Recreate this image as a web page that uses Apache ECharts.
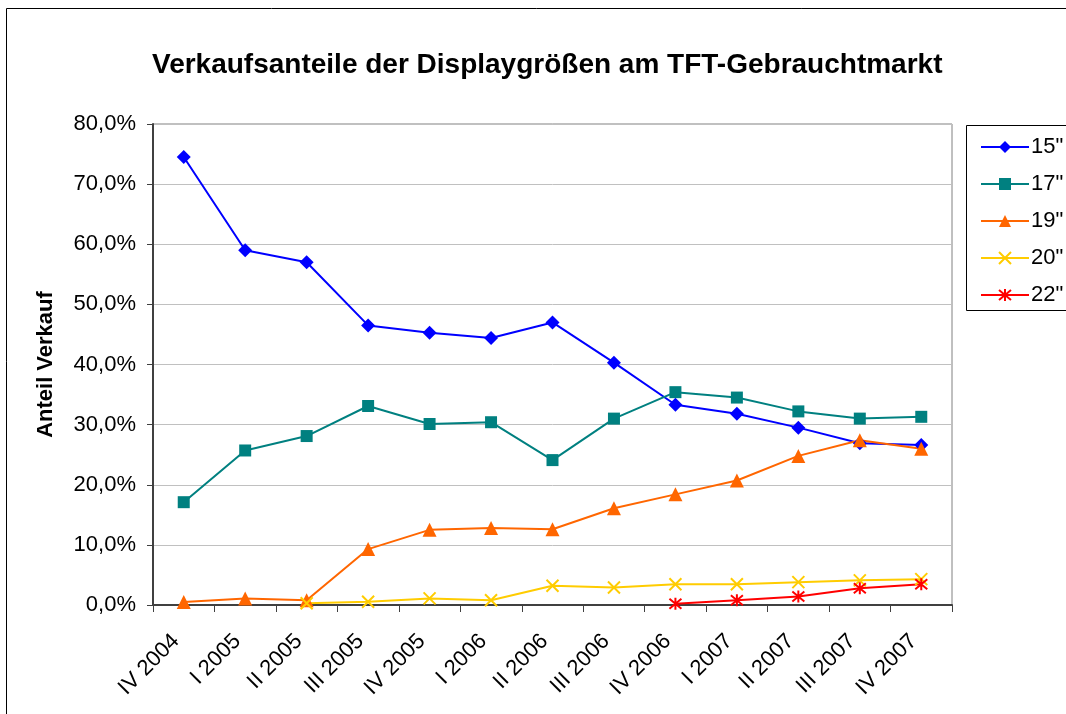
<!DOCTYPE html>
<html>
<head>
<meta charset="utf-8">
<script src="https://cdn.jsdelivr.net/npm/echarts@6/dist/echarts.min.js"></script>
<style>
html,body{margin:0;padding:0;background:#fff;}
#c{width:1066px;height:714px;}
</style>
</head>
<body>
<div id="c"></div>
<script>
const categories = ['IV 2004','I 2005','II 2005','III 2005','IV 2005','I 2006','II 2006','III 2006','IV 2006','I 2007','II 2007','III 2007','IV 2007'];
const s15 = [74.5, 59.0, 57.0, 46.5, 45.3, 44.4, 47.0, 40.3, 33.3, 31.8, 29.5, 26.9, 26.6];
const s17 = [17.1, 25.7, 28.1, 33.1, 30.1, 30.4, 24.1, 31.0, 35.4, 34.5, 32.2, 31.0, 31.3];
const s19 = [0.5, 1.1, 0.8, 9.3, 12.5, 12.8, 12.6, 16.1, 18.4, 20.7, 24.8, 27.4, 26.0];
const s20 = [null, null, 0.3, 0.55, 1.1, 0.8, 3.2, 2.9, 3.45, 3.45, 3.8, 4.1, 4.3];
const s22 = [null, null, null, null, null, null, null, null, 0.2, 0.8, 1.4, 2.8, 3.45];
const seriesNames = ['15"', '17"', '19"', '20"', '22"'];
const yTicks = {min: 0, max: 80, interval: 10};

const FONT = '"Liberation Sans", Arial, sans-serif';
const xPath = 'path://M0,0L10,10M10,0L0,10';
const starPath = 'path://M0,0L10,10M10,0L0,10M5,-1L5,11';

function mk(name, data, color, symbol, size, stroke) {
  return {
    name: name, type: 'line', data: data, symbol: symbol, symbolSize: size,
    connectNulls: false,
    lineStyle: {color: color, width: 2},
    itemStyle: stroke ? {color: 'rgba(0,0,0,0)', borderColor: color, borderWidth: 2} : {color: color, borderColor: color, borderWidth: 0},
    emphasis: {disabled: true},
    z: 3
  };
}

const chart = echarts.init(document.getElementById('c'), null, {renderer: 'canvas'});
chart.setOption({
  animation: false,
  backgroundColor: '#fff',
  title: {
    text: 'Verkaufsanteile der Displaygrößen am TFT-Gebrauchtmarkt',
    left: 147, top: 46,
    textStyle: {fontFamily: FONT, fontWeight: 'bold', fontSize: 28, color: '#000'}
  },
  graphic: [
    {type: 'rect', shape: {x: 6.5, y: 8.5, width: 1200, height: 900}, style: {fill: 'none', stroke: '#000', lineWidth: 1}, z: 0, silent: true},
    {type: 'rect', shape: {x: 966.5, y: 125.5, width: 200, height: 185}, style: {fill: 'none', stroke: '#000', lineWidth: 1}, z: 0, silent: true}
  ],
  legend: {
    orient: 'vertical', left: 975, top: 131,
    itemWidth: 48, itemHeight: 15, itemGap: 15,
    textStyle: {fontFamily: FONT, fontSize: 22, color: '#000', lineHeight: 21, padding: [0, 0, 0, -3]},
    data: seriesNames
  },
  grid: {left: 153, top: 124, right: 114, bottom: 109, show: true, borderColor: '#808080', borderWidth: 1, backgroundColor: '#fff'},
  xAxis: {
    type: 'category', data: categories, boundaryGap: true,
    axisLine: {lineStyle: {color: '#404040', width: 2}},
    axisTick: {show: true, length: 7, lineStyle: {color: '#404040', width: 1}, alignWithLabel: false},
    axisLabel: {rotate: 45, interval: 0, margin: 25, padding: [0, 11, 0, 0], fontFamily: FONT, fontSize: 22, color: '#000'},
    splitLine: {show: false}
  },
  yAxis: {
    type: 'value', min: yTicks.min, max: yTicks.max, interval: yTicks.interval,
    name: 'Anteil Verkauf', nameLocation: 'middle', nameGap: 96, nameRotate: 90,
    nameTextStyle: {fontFamily: FONT, fontWeight: 'bold', fontSize: 22, color: '#000'},
    axisLine: {show: true, lineStyle: {color: '#404040', width: 2}},
    axisTick: {show: true, length: 6, lineStyle: {color: '#404040', width: 1}},
    axisLabel: {margin: 17, fontFamily: FONT, fontSize: 22, color: '#000',
      formatter: v => v.toFixed(1).replace('.', ',') + '%'},
    splitLine: {show: true, lineStyle: {color: '#c0c0c0', width: 1}}
  },
  series: [
    mk(seriesNames[0], s15, '#0000FF', 'diamond', 14, false),
    mk(seriesNames[1], s17, '#008080', 'rect', 12, false),
    mk(seriesNames[2], s19, '#FF6600', 'triangle', 14, false),
    mk(seriesNames[3], s20, '#FFCC00', xPath, 12, true),
    mk(seriesNames[4], s22, '#FF0000', starPath, 12, true)
  ]
});
</script>
</body>
</html>
